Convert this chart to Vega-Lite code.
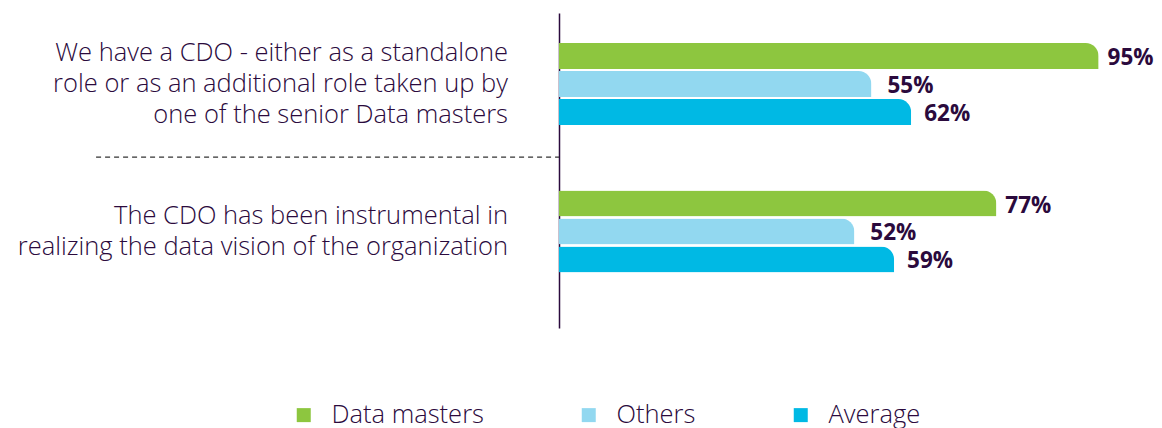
{
  "$schema": "https://vega.github.io/schema/vega-lite/v6.json",
  "autosize": "none",
  "width": 568,
  "height": 315,
  "padding": {"left": 559, "top": 13, "right": 35, "bottom": 100},
  "background": "white",
  "config": {
    "view": {"stroke": null},
    "font": "Open Sans",
    "text": {"lineBreak": "\n"}
  },
  "data": {
    "values": [
      {"q": "We have a CDO - either as a standalone\nrole or as an additional role taken up by\none of the senior Data masters", "series": "Data masters", "value": 0.95},
      {"q": "We have a CDO - either as a standalone\nrole or as an additional role taken up by\none of the senior Data masters", "series": "Others", "value": 0.55},
      {"q": "We have a CDO - either as a standalone\nrole or as an additional role taken up by\none of the senior Data masters", "series": "Average", "value": 0.62},
      {"q": "The CDO has been instrumental in\nrealizing the data vision of the organization", "series": "Data masters", "value": 0.77},
      {"q": "The CDO has been instrumental in\nrealizing the data vision of the organization", "series": "Others", "value": 0.52},
      {"q": "The CDO has been instrumental in\nrealizing the data vision of the organization", "series": "Average", "value": 0.59}
    ]
  },
  "encoding": {
    "y": {
      "field": "q",
      "type": "nominal",
      "sort": null,
      "scale": {"paddingInner": 0.2, "paddingOuter": 0.1678, "align": 0.2424},
      "axis": {"labels": false, "ticks": false, "title": null, "domainColor": "#2B0A3D", "domainWidth": 1.5, "grid": false}
    }
  },
  "layer": [
    {
      "mark": {"type": "bar", "cornerRadiusTopRight": 15, "cornerRadiusBottomRight": 0},
      "encoding": {
        "x": {"field": "value", "type": "quantitative", "scale": {"domain": [0, 1]}, "axis": null},
        "yOffset": {
          "field": "series",
          "sort": ["Data masters", "Others", "Average"],
          "scale": {"paddingInner": 0.0714, "paddingOuter": 0.643}
        },
        "color": {
          "field": "series",
          "type": "nominal",
          "scale": {"domain": ["Data masters", "Others", "Average"], "range": ["#8DC63F", "#92D8F0", "#00B9E4"]},
          "legend": {
            "title": null,
            "orient": "none",
            "direction": "horizontal",
            "legendX": -268,
            "legendY": 389,
            "symbolType": "square",
            "symbolSize": 196,
            "symbolStrokeWidth": 0,
            "symbolOpacity": 1,
            "labelFontSize": 25.5,
            "labelFont": "Open Sans",
            "labelFontWeight": 300,
            "labelColor": "#2B0A3D",
            "labelOffset": 15,
            "columnPadding": 92,
            "labelLimit": 400
          }
        }
      }
    },
    {
      "transform": [{"filter": "datum.series === 'Data masters'"}],
      "mark": {"type": "text", "align": "left", "baseline": "middle", "dx": 9, "dy": 2, "fontSize": 22.5, "fontWeight": "bold", "color": "#2B0A3D"},
      "encoding": {
        "x": {"field": "value", "type": "quantitative"},
        "yOffset": {"field": "series", "sort": ["Data masters", "Others", "Average"]},
        "text": {"field": "value", "type": "quantitative", "format": ".0%"}
      }
    },
    {
      "transform": [{"filter": "datum.series === 'Others'"}],
      "mark": {"type": "text", "align": "left", "baseline": "middle", "dx": 16, "dy": 2, "fontSize": 22.5, "fontWeight": "bold", "color": "#2B0A3D"},
      "encoding": {
        "x": {"field": "value", "type": "quantitative"},
        "yOffset": {"field": "series", "sort": ["Data masters", "Others", "Average"]},
        "text": {"field": "value", "type": "quantitative", "format": ".0%"}
      }
    },
    {
      "transform": [{"filter": "datum.series === 'Average'"}],
      "mark": {"type": "text", "align": "left", "baseline": "middle", "dx": 13, "dy": 2, "fontSize": 22.5, "fontWeight": "bold", "color": "#2B0A3D"},
      "encoding": {
        "x": {"field": "value", "type": "quantitative"},
        "yOffset": {"field": "series", "sort": ["Data masters", "Others", "Average"]},
        "text": {"field": "value", "type": "quantitative", "format": ".0%"}
      }
    },
    {
      "transform": [{"filter": "datum.series === 'Data masters' && datum.value > 0.9"}],
      "mark": {"type": "text", "align": "right", "baseline": "middle", "dy": -31, "fontSize": 25.5, "fontWeight": 300, "lineHeight": 31, "color": "#2B0A3D"},
      "encoding": {
        "x": {"datum": -0.0898, "type": "quantitative"},
        "text": {"field": "q"}
      }
    },
    {
      "transform": [{"filter": "datum.series === 'Data masters' && datum.value < 0.9"}],
      "mark": {"type": "text", "align": "right", "baseline": "middle", "dy": -15.5, "fontSize": 25.5, "fontWeight": 300, "lineHeight": 31, "color": "#2B0A3D"},
      "encoding": {
        "x": {"datum": -0.0898, "type": "quantitative"},
        "text": {"field": "q"}
      }
    },
    {
      "data": {"values": [{}]},
      "mark": {"type": "rule", "strokeDash": [5, 4], "strokeWidth": 1.3, "color": "#333333"},
      "encoding": {
        "x": {"datum": -0.815, "type": "quantitative"},
        "x2": {"datum": 0},
        "y": {"datum": "We have a CDO - either as a standalone\nrole or as an additional role taken up by\none of the senior Data masters", "bandPosition": 1.12}
      }
    }
  ]
}
